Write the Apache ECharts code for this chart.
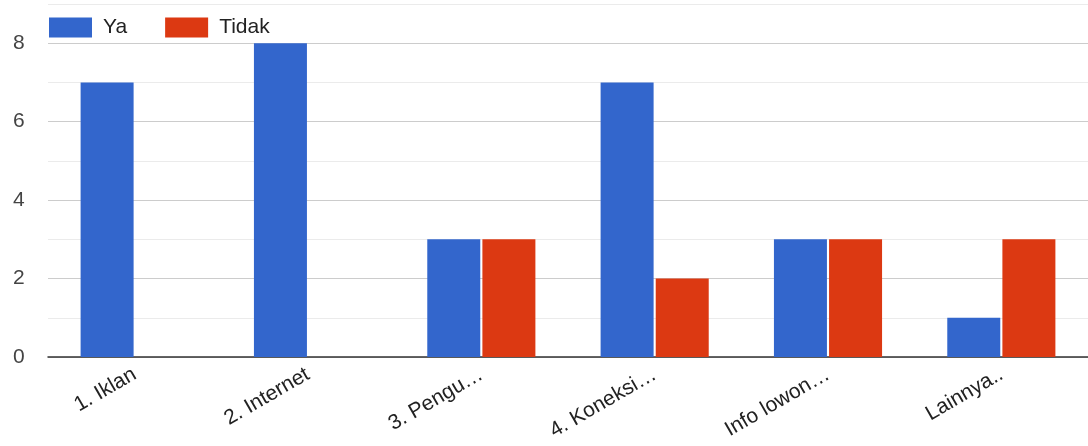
<!DOCTYPE html>
<html><head><meta charset="utf-8">
<script src="https://cdn.jsdelivr.net/npm/echarts@6/dist/echarts.min.js"></script>
<style>html,body{margin:0;padding:0;background:#fff}#c{width:1088px;height:446px}</style>
</head><body><div id="c"></div>
<script>
var categories = ['1. Iklan', '2. Internet', '3. Pengu…', '4. Koneksi…', 'Info lowon…', 'Lainnya..'];
var seriesNames = ['Ya', 'Tidak'];
var yaValues = [7, 8, 3, 7, 3, 1];
var tidakValues = [0, 0, 3, 2, 3, 3];
var yTickLabels = ['0', '2', '4', '6', '8'];

var chart = echarts.init(document.getElementById('c'));
chart.setOption({
  animation: false,
  color: ['#3366cc', '#dc3912'],
  textStyle: {fontFamily: '"Liberation Sans", Arial, sans-serif'},
  legend: {
    left: 44, top: 12, itemWidth: 43, itemHeight: 20, itemGap: 38,
    icon: 'rect',
    textStyle: {fontSize: 21, color: '#222', padding: [0, 0, 0, 6]},
    data: seriesNames
  },
  grid: {left: 48, right: 0, top: 4, bottom: 89, containLabel: false},
  xAxis: {
    type: 'category', data: categories,
    axisLine: {lineStyle: {color: '#333', width: 1.5}},
    axisTick: {show: false},
    axisLabel: {rotate: 30, fontSize: 21, color: '#222', margin: 16, interval: 0}
  },
  yAxis: {
    type: 'value', min: 0, max: 9, interval: 1,
    axisLine: {show: false}, axisTick: {show: false},
    axisLabel: {
      fontSize: 21, color: '#444', margin: 35, align: 'left',
      formatter: function (v) { var s = String(v); return yTickLabels.indexOf(s) >= 0 ? s : ''; }
    },
    splitLine: {lineStyle: {color: ['#cccccc', '#ebebeb'], width: 1}}
  },
  series: [
    {name: seriesNames[0], type: 'bar', data: yaValues, barWidth: 53, barGap: '4%'},
    {name: seriesNames[1], type: 'bar', data: tidakValues, barWidth: 53, barGap: '4%'}
  ]
});
</script></body></html>
